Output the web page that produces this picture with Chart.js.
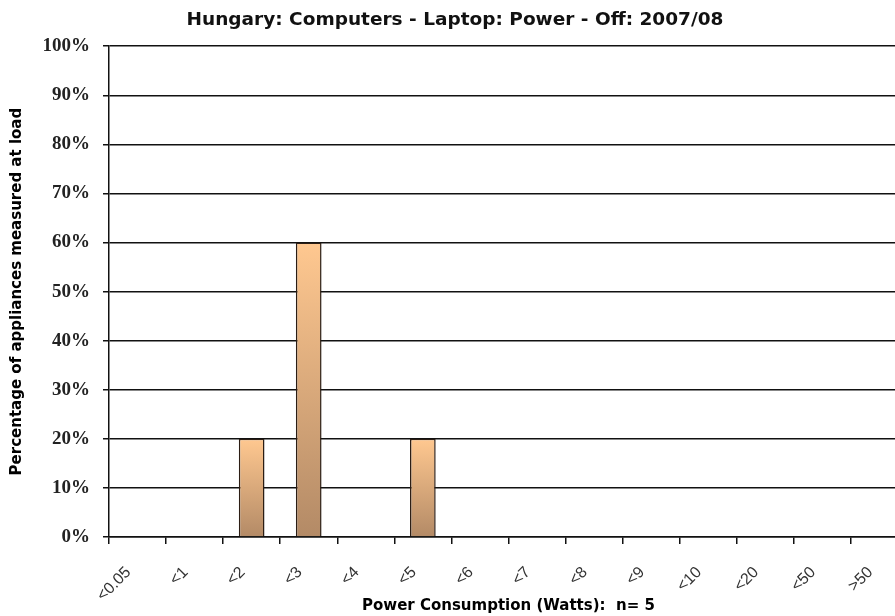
<!DOCTYPE html>
<html>
<head>
<meta charset="utf-8">
<script src="https://cdn.jsdelivr.net/npm/chart.js@4/dist/chart.umd.min.js"></script>
<style>
  html, body { margin: 0; padding: 0; background: #fff; overflow: hidden; }
  #wrap { width: 912px; height: 616px; }
</style>
</head>
<body>
<div id="wrap"><canvas id="powerChart" width="912" height="616"></canvas></div>
<script>
const chartTitle = 'Hungary: Computers - Laptop: Power - Off: 2007/08';
const categories = ['<0.05', '<1', '<2', '<3', '<4', '<5', '<6', '<7', '<8', '<9', '<10', '<20', '<50', '>50'];
const percentages = [0, 0, 20, 60, 0, 20, 0, 0, 0, 0, 0, 0, 0, 0];
const yTicks = [0, 10, 20, 30, 40, 50, 60, 70, 80, 90, 100];

// vertical peach-to-brown fill, worked out per bar from its own height
function barFill(context) {
    const chart = context.chart;
    const y = chart.scales.y;
    if (!chart.chartArea || !y) return '#e0b080';
    const v = context.raw || 0;
    const top = y.getPixelForValue(v);
    const base = y.getPixelForValue(0);
    if (!(base > top)) return '#e0b080';
    const g = chart.ctx.createLinearGradient(0, top, 0, base);
    g.addColorStop(0, '#ffc890');
    g.addColorStop(1, '#b38a66');
    return g;
}

const ctx = document.getElementById('powerChart').getContext('2d');
new Chart(ctx, {
    type: 'bar',
    data: {
        labels: categories,
        datasets: [{
            data: percentages,
            backgroundColor: barFill,
            borderColor: '#2b1d14',
            borderWidth: 1.5,
            borderSkipped: 'bottom',
            categoryPercentage: 1,
            barPercentage: 0.45
        }]
    },
    options: {
        responsive: false,
        animation: false,
        layout: { padding: { top: 0, right: 2, left: 0, bottom: 0 } },
        plugins: {
            legend: { display: false },
            tooltip: { enabled: false },
            title: {
                display: true,
                text: chartTitle,
                color: '#111',
                font: { family: 'DejaVu Sans', size: 18.5, weight: 'bold' },
                padding: { top: 9, bottom: 15 }
            }
        },
        scales: {
            x: {
                offset: true,
                afterFit: axis => { axis.height = 79; },
                grid: { display: true, offset: true, drawOnChartArea: false, color: '#111', lineWidth: 1.5, tickLength: 7 },
                border: { display: true, color: '#111', width: 1.5 },
                ticks: {
                    color: '#333',
                    font: { family: 'Liberation Sans', size: 16 },
                    minRotation: 45,
                    maxRotation: 45,
                    autoSkip: false,
                    padding: 19,
                    labelOffset: -9
                },
                title: {
                    display: true,
                    text: 'Power Consumption (Watts):  n= 5',
                    color: '#000',
                    font: { family: 'DejaVu Sans', size: 15, weight: 'bold' },
                    padding: { top: 0, bottom: 1 }
                }
            },
            y: {
                min: 0,
                max: 100,
                afterBuildTicks: axis => { axis.ticks = yTicks.map(v => ({ value: v })); },
                afterFit: axis => { axis.width = 109; },
                grid: { color: '#111', lineWidth: 1.5, tickLength: 6 },
                border: { display: true, color: '#111', width: 1.5 },
                ticks: {
                    color: '#222',
                    font: { family: 'Liberation Serif', size: 19, weight: 'bold' },
                    padding: 13,
                    callback: v => v + '%'
                },
                title: {
                    display: true,
                    text: 'Percentage of appliances measured at load',
                    color: '#000',
                    font: { family: 'DejaVu Sans', size: 15, weight: 'bold' },
                    padding: { top: 8, bottom: 0 }
                }
            }
        }
    }
});
</script>
</body>
</html>
